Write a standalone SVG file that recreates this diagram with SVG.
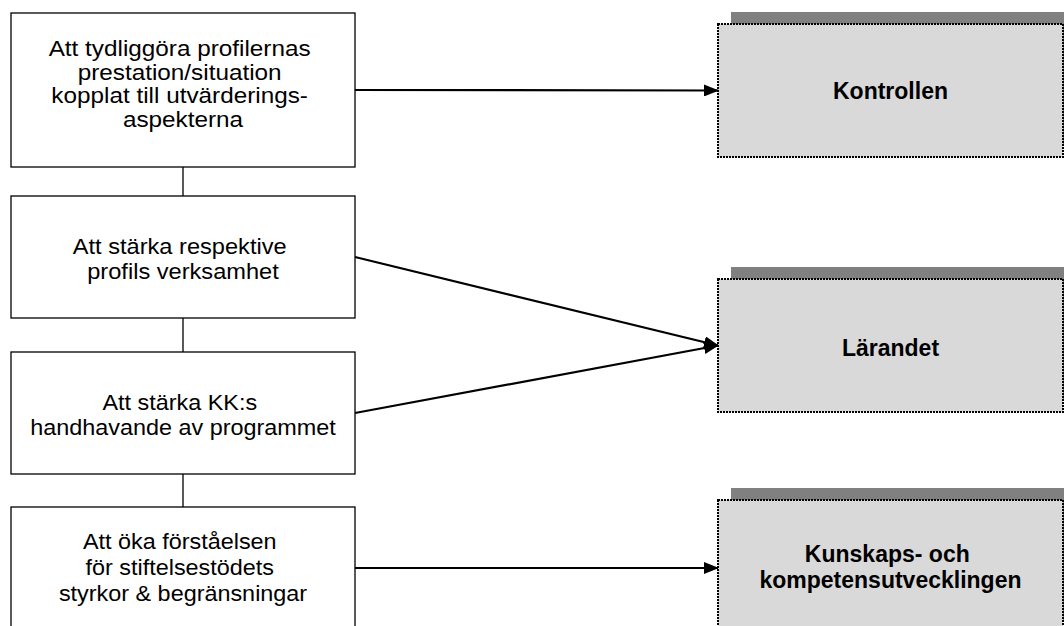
<svg xmlns="http://www.w3.org/2000/svg" width="1064" height="626" viewBox="0 0 1064 626">
  <defs>
    <style>
      .goal { fill: #ffffff; stroke: #000000; stroke-width: 1.3; }
      .area { fill: #d9d9d9; stroke: #000000; stroke-width: 2; stroke-dasharray: 2 1; }
      .shadow { fill: #808080; stroke: none; }
      .link { stroke: #000000; stroke-width: 1.3; fill: none; }
      .arrow { stroke: #000000; stroke-width: 2.2; fill: none; marker-end: url(#head); }
      .gtxt { font-family: "Liberation Sans", Arial, sans-serif; font-size: 22.5px; fill: #000; text-anchor: middle; }
      .atxt { font-family: "Liberation Sans", Arial, sans-serif; font-size: 23px; font-weight: bold; fill: #000; text-anchor: middle; }
    </style>
    <marker id="head" markerUnits="userSpaceOnUse" markerWidth="16" markerHeight="12" refX="14" refY="6" orient="auto">
      <path d="M0,0 L15,6 L0,12 Z" fill="#000"/>
    </marker>
  </defs>

  <rect width="1064" height="626" fill="#ffffff"/>

  <!-- connectors -->
  <g id="connectors">
    <line class="link" x1="183" y1="167" x2="183" y2="196"/>
    <line class="link" x1="183" y1="318" x2="183" y2="352"/>
    <line class="link" x1="183" y1="474" x2="183" y2="507"/>
    <line class="arrow" x1="355" y1="90" x2="718" y2="90.5"/>
    <line class="arrow" x1="355" y1="257" x2="718" y2="345.5"/>
    <line class="arrow" x1="355" y1="413" x2="718" y2="345.5"/>
    <line class="arrow" x1="355" y1="568" x2="718" y2="568"/>
  </g>

  <!-- goals (left column) -->
  <g id="goal-1">
    <rect class="goal" x="11" y="13" width="344" height="154"/>
    <text class="gtxt" transform="translate(183 0) scale(1.08 1)" font-size="23">
      <tspan x="0" y="56.5">Att tydliggöra profilernas</tspan>
      <tspan x="0" y="80">prestation/situation</tspan>
      <tspan x="0" y="103.5">kopplat till utvärderings-</tspan>
      <tspan x="0" y="127">aspekterna</tspan>
    </text>
  </g>
  <g id="goal-2">
    <rect class="goal" x="11" y="196" width="344" height="122"/>
    <text class="gtxt" transform="translate(183 0) scale(1.05 1)">
      <tspan x="0" y="254">Att stärka respektive</tspan>
      <tspan x="0" y="279">profils verksamhet</tspan>
    </text>
  </g>
  <g id="goal-3">
    <rect class="goal" x="11" y="352" width="344" height="122"/>
    <text class="gtxt" transform="translate(183 0) scale(1.04 1)">
      <tspan x="0" y="410">Att stärka KK:s</tspan>
      <tspan x="0" y="435">handhavande av programmet</tspan>
    </text>
  </g>
  <g id="goal-4">
    <rect class="goal" x="11" y="507" width="344" height="130"/>
    <text class="gtxt" transform="translate(183 0) scale(1.04 1)">
      <tspan x="0" y="549">Att öka förståelsen</tspan>
      <tspan x="0" y="575">för stiftelsestödets</tspan>
      <tspan x="0" y="601">styrkor &amp; begränsningar</tspan>
    </text>
  </g>

  <!-- evaluation areas (right column) -->
  <g id="area-kontrollen">
    <rect class="shadow" x="731" y="12" width="345" height="133"/>
    <rect class="area" x="718" y="24" width="345" height="133"/>
    <text class="atxt" x="890.5" y="99">Kontrollen</text>
  </g>
  <g id="area-larandet">
    <rect class="shadow" x="731" y="267" width="345" height="133"/>
    <rect class="area" x="718" y="279" width="345" height="133"/>
    <text class="atxt" x="890.5" y="356">Lärandet</text>
  </g>
  <g id="area-kunskap">
    <rect class="shadow" x="731" y="488" width="345" height="133"/>
    <rect class="area" x="718" y="500" width="345" height="136"/>
    <text class="atxt" x="890.5" y="562">
      <tspan x="890.5" y="562">Kunskaps- och</tspan>
      <tspan x="890.5" y="588">kompetensutvecklingen</tspan>
    </text>
  </g>
</svg>
